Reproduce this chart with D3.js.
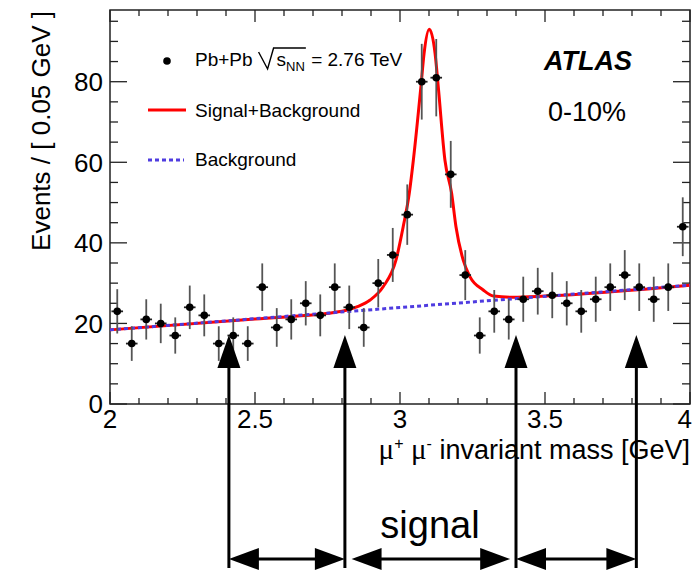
<!DOCTYPE html>
<html>
<head>
<meta charset="utf-8">
<script src="https://cdn.jsdelivr.net/npm/d3@7/dist/d3.min.js"></script>
<style>
body { margin: 0; background: #fff; }
text { font-family: "Liberation Sans", Arial, Helvetica, sans-serif; fill: #000; }
</style>
</head>
<body>
<svg id="chart" width="693" height="570"></svg>
<script>
// bin centres of the 0.05 GeV histogram
var binCenters = [2.025, 2.075, 2.125, 2.175, 2.225, 2.275, 2.325, 2.375, 2.425, 2.475,
                  2.525, 2.575, 2.625, 2.675, 2.725, 2.775, 2.825, 2.875, 2.925, 2.975,
                  3.025, 3.075, 3.125, 3.175, 3.225, 3.275, 3.325, 3.375, 3.425, 3.475,
                  3.525, 3.575, 3.625, 3.675, 3.725, 3.775, 3.825, 3.875, 3.925, 3.975];
var counts = [23, 15, 21, 20, 17, 24, 22, 15, 17, 15,
              29, 19, 21, 25, 22, 29, 24, 19, 30, 37,
              47, 80, 81, 57, 32, 17, 23, 21, 26, 28,
              27, 25, 23, 26, 29, 32, 29, 26, 29, 44];
var errs = [5.5, 4.3, 5.0, 4.9, 4.5, 5.4, 5.2, 4.3, 4.5, 4.3,
            5.9, 4.8, 5.0, 5.5, 5.2, 5.9, 5.4, 4.8, 6.0, 6.7,
            7.5, 9.4, 9.6, 8.3, 6.2, 4.5, 5.3, 5.0, 5.6, 5.8,
            5.7, 5.5, 5.3, 5.6, 5.9, 6.2, 5.9, 5.6, 5.9, 7.3];

// signal+background fit
var fitX = [2.0, 2.5, 2.8, 2.851, 2.897, 2.942, 2.986, 3.011, 3.032, 3.046, 3.072, 3.083,
            3.101, 3.121, 3.132, 3.155, 3.178, 3.193, 3.218, 3.241, 3.287, 3.322, 3.391, 3.5, 4.0];
var fitY = [18.4, 21.1, 23.0, 24.1, 25.8, 29.1, 35.7, 44.0, 52.3, 60.5, 78.7, 87.0,
            93.0, 87.0, 78.7, 60.5, 52.3, 44.0, 35.7, 31.6, 28.3, 26.8, 26.5, 26.8, 29.5];
// background only (linear)
var bgX = [2.0, 4.0];
var bgY = [18.4, 29.5];

var xMajor = [2, 2.5, 3, 3.5, 4];
var xLabels = ["2", "2.5", "3", "3.5", "4"];
var yMajor = [0, 20, 40, 60, 80];
var yLabels = ["0", "20", "40", "60", "80"];

// sideband / signal window edges
var windowEdges = [2.41, 2.81, 3.40, 3.815];
var rangeArrows = [[2.41, 2.81], [2.833, 3.38], [3.40, 3.815]];

var svg = d3.select("#chart");
var L = 110, R = 690, T = 10, B = 404;

var x = d3.scaleLinear().domain([2, 4]).range([L, R]);
var y = d3.scaleLinear().domain([0, 97.8]).range([B, T]);

// frame
svg.append("rect").attr("x", L).attr("y", T).attr("width", R - L).attr("height", B - T)
  .attr("fill", "none").attr("stroke", "#222").attr("stroke-width", 1.5);

// ticks on all four sides
var xMinor = d3.range(2, 4.0001, 0.1);
var yMinor = d3.range(0, 97.8, 5);
function isMajorX(v) { return Math.abs(v * 2 - Math.round(v * 2)) < 1e-6; }
function isMajorY(v) { return v % 20 === 0; }

var tk = svg.append("g").attr("stroke", "#222").attr("stroke-width", 1.3);
xMinor.forEach(function (v) {
  var len = isMajorX(v) ? 12 : 6;
  tk.append("line").attr("x1", x(v)).attr("x2", x(v)).attr("y1", B).attr("y2", B - len);
  tk.append("line").attr("x1", x(v)).attr("x2", x(v)).attr("y1", T).attr("y2", T + len);
});
yMinor.forEach(function (v) {
  var len = isMajorY(v) ? 17 : 8;
  tk.append("line").attr("y1", y(v)).attr("y2", y(v)).attr("x1", L).attr("x2", L + len);
  tk.append("line").attr("y1", y(v)).attr("y2", y(v)).attr("x1", R).attr("x2", R - len);
});

// tick labels (last one kept inside the page edge)
svg.selectAll(".xl").data(xMajor).enter().append("text")
  .attr("x", function (d, i) { return i === xMajor.length - 1 ? 692 : x(d); }).attr("y", 428)
  .attr("text-anchor", function (d, i) { return i === xMajor.length - 1 ? "end" : "middle"; })
  .style("font-size", "26px")
  .text(function (d, i) { return xLabels[i]; });
svg.selectAll(".yl").data(yMajor).enter().append("text")
  .attr("x", 103).attr("y", function (d) { return y(d); }).attr("dy", "0.36em")
  .attr("text-anchor", "end").style("font-size", "26px")
  .text(function (d, i) { return yLabels[i]; });

// axis titles
svg.append("text").attr("transform", "translate(50,11) rotate(-90)")
  .attr("text-anchor", "end").style("font-size", "26px")
  .text("Events / [ 0.05 GeV ]");

var xt = svg.append("text").attr("x", 690).attr("y", 459).attr("text-anchor", "end").style("font-size", "27px");
xt.append("tspan").style("font-family", "'Liberation Serif', 'DejaVu Serif', serif").style("font-size", "29px").text("\u03bc");
xt.append("tspan").attr("dy", -10).style("font-size", "16px").text("+");
xt.append("tspan").attr("dy", 10).text("  ");
xt.append("tspan").style("font-family", "'Liberation Serif', 'DejaVu Serif', serif").style("font-size", "29px").text("\u03bc");
xt.append("tspan").attr("dy", -10).style("font-size", "16px").text("-");
xt.append("tspan").attr("dy", 10).text(" invariant mass [GeV]");

// fit curves
svg.append("path").datum(d3.zip(fitX, fitY))
  .attr("fill", "none").attr("stroke", "#ff0000").attr("stroke-width", 3)
  .attr("d", d3.line().x(function (d) { return x(d[0]); }).y(function (d) { return y(d[1]); })
    .curve(d3.curveMonotoneX));
svg.append("path").datum(d3.zip(bgX, bgY))
  .attr("fill", "none").attr("stroke", "#4f3ce0").attr("stroke-width", 3)
  .attr("stroke-dasharray", "4,3")
  .attr("d", d3.line().x(function (d) { return x(d[0]); }).y(function (d) { return y(d[1]); }));

// data points with error bars
var pts = svg.append("g");
binCenters.forEach(function (c, i) {
  pts.append("line").attr("x1", x(c)).attr("x2", x(c))
    .attr("y1", y(counts[i] - errs[i])).attr("y2", Math.max(T, y(counts[i] + errs[i])))
    .attr("stroke", "#555").attr("stroke-width", 1.8);
  pts.append("line").attr("x1", x(c - 0.02)).attr("x2", x(c + 0.02))
    .attr("y1", y(counts[i])).attr("y2", y(counts[i]))
    .attr("stroke", "#222").attr("stroke-width", 1.8);
  pts.append("circle").attr("cx", x(c)).attr("cy", y(counts[i])).attr("r", 3.8).attr("fill", "#000");
});

// legend
svg.append("circle").attr("cx", 167).attr("cy", 61).attr("r", 3.8).attr("fill", "#000");
var lx = 195, ly = 66;
var t1 = svg.append("text").attr("x", lx).attr("y", ly).style("font-size", "19px").text("Pb+Pb");
var radStart = lx + t1.node().getComputedTextLength() + 6;
var cx = radStart + 18;
var ts = svg.append("text").attr("x", cx).attr("y", ly).style("font-size", "19px").text("s");
cx += ts.node().getComputedTextLength();
var tn = svg.append("text").attr("x", cx).attr("y", ly + 5).style("font-size", "13px").text("NN");
cx += tn.node().getComputedTextLength();
svg.append("path")
  .attr("d", "M" + radStart + "," + (ly - 14) + " L" + (radStart + 9) + "," + (ly + 3) +
    " L" + (radStart + 15) + "," + (ly - 18) + " L" + (cx + 1) + "," + (ly - 18))
  .attr("fill", "none").attr("stroke", "#000").attr("stroke-width", 1.4);
svg.append("text").attr("x", cx + 1).attr("y", ly).style("font-size", "19px")
  .style("white-space", "pre").text(" = 2.76 TeV");

svg.append("line").attr("x1", 148).attr("x2", 186).attr("y1", 110).attr("y2", 110)
  .attr("stroke", "#ff0000").attr("stroke-width", 3);
svg.append("text").attr("x", 195).attr("y", 117).style("font-size", "19px").text("Signal+Background");
svg.append("line").attr("x1", 148).attr("x2", 184).attr("y1", 160).attr("y2", 160)
  .attr("stroke", "#4f3ce0").attr("stroke-width", 3).attr("stroke-dasharray", "4,3");
svg.append("text").attr("x", 195).attr("y", 166).style("font-size", "19px").text("Background");

svg.append("text").attr("x", 544).attr("y", 70).style("font-size", "27px")
  .style("font-weight", "bold").style("font-style", "italic").text("ATLAS");
svg.append("text").attr("x", 548).attr("y", 121).style("font-size", "27px").text("0-10%");

// window arrows
var ar = svg.append("g");
windowEdges.forEach(function (e) {
  var ax = x(e), tip = 335;
  ar.append("line").attr("x1", ax).attr("x2", ax).attr("y1", tip + 20).attr("y2", 568)
    .attr("stroke", "#000").attr("stroke-width", 3);
  ar.append("path").attr("d", "M" + ax + "," + tip + " L" + (ax - 11.5) + "," + (tip + 33) +
    " L" + (ax + 11.5) + "," + (tip + 33) + "Z").attr("fill", "#000");
});
var hy = 559;
rangeArrows.forEach(function (r) {
  var a = x(r[0]), b = x(r[1]);
  ar.append("line").attr("x1", a + 20).attr("x2", b - 20).attr("y1", hy).attr("y2", hy)
    .attr("stroke", "#000").attr("stroke-width", 3);
  ar.append("path").attr("d", "M" + a + "," + hy + " L" + (a + 30) + "," + (hy - 11) +
    " L" + (a + 30) + "," + (hy + 11) + "Z").attr("fill", "#000");
  ar.append("path").attr("d", "M" + b + "," + hy + " L" + (b - 30) + "," + (hy - 11) +
    " L" + (b - 30) + "," + (hy + 11) + "Z").attr("fill", "#000");
});
svg.append("text").attr("x", 430).attr("y", 538).attr("text-anchor", "middle")
  .style("font-size", "38px").text("signal");
</script>
</body>
</html>
